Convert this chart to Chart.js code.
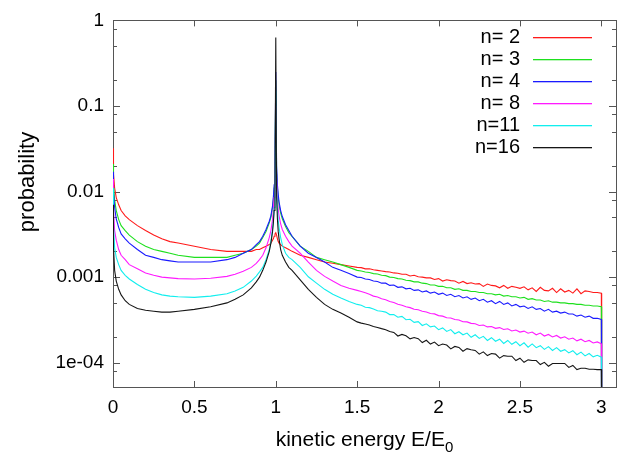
<!DOCTYPE html>
<html>
<head>
<meta charset="utf-8">
<script src="https://cdn.jsdelivr.net/npm/chart.js@4.4.1/dist/chart.umd.min.js"></script>
<style>
html, body { margin: 0; padding: 0; background: #fff; }
</style>
</head>
<body>
<canvas id="chart" width="619" height="452"></canvas>
<script>
// kinetic energy E/E0 (shared x values, 10 per row)
const energy = [
  0, 0.003, 0.01, 0.02, 0.035, 0.05, 0.075, 0.1, 0.15, 0.2,
  0.25, 0.3, 0.35, 0.4, 0.5, 0.6, 0.7, 0.75, 0.8, 0.85,
  0.88, 0.9, 0.92, 0.94, 0.96, 0.97, 0.98, 0.985, 0.99, 0.995,
  1.0, 1.005, 1.01, 1.015, 1.02, 1.03, 1.04, 1.06, 1.08, 1.1,
  1.15, 1.2, 1.25, 1.3, 1.35, 1.4, 1.45,
  1.5, 1.525, 1.55, 1.575, 1.6, 1.625, 1.65, 1.675, 1.7, 1.725,
  1.75, 1.775, 1.8, 1.825, 1.85, 1.875, 1.9, 1.925, 1.95, 1.975,
  2.0, 2.025, 2.05, 2.075, 2.1, 2.125, 2.15, 2.175, 2.2, 2.225,
  2.25, 2.275, 2.3, 2.325, 2.35, 2.375, 2.4, 2.425, 2.45, 2.475,
  2.5, 2.525, 2.55, 2.575, 2.6, 2.625, 2.65, 2.675, 2.7, 2.725,
  2.75, 2.775, 2.8, 2.825, 2.85, 2.875, 2.9, 2.925, 2.95, 2.975,
  3.0, 3.002
];

const seriesLabels = ["n= 2", "n= 3", "n= 4", "n= 8", "n=11", "n=16"];
const seriesColors = ["#ff1a1a", "#1ee01e", "#1a1aff", "#ff1aff", "#12eeee", "#161616"];

const probN2 = [
  0.032, 0.016, 0.011, 0.0085, 0.007, 0.006, 0.0052, 0.0047, 0.004, 0.0035,
  0.0031, 0.0028, 0.0026, 0.0025, 0.0023, 0.0021, 0.002, 0.002, 0.002, 0.002,
  0.0021, 0.0021, 0.0022, 0.0023, 0.0024, 0.0025, 0.0027, 0.0028, 0.003, 0.0032,
  0.0033, 0.0031, 0.0028, 0.0026, 0.0025, 0.0024, 0.0023, 0.0022, 0.0021, 0.002,
  0.0018, 0.0017, 0.0016, 0.0015, 0.00145, 0.0014, 0.00135,
  0.0013, 0.00129, 0.00125, 0.00125, 0.00122, 0.0012, 0.00118, 0.00116, 0.00115, 0.00112,
  0.00111, 0.00108, 0.00108, 0.00103, 0.00105, 0.00101, 0.001, 0.00098, 0.00098, 0.00094,
  0.00096, 0.0009, 0.00093, 0.00091, 0.0009, 0.00085, 0.00089, 0.00084, 0.00086, 0.00083,
  0.00084, 0.00078, 0.00083, 0.0008, 0.00079, 0.00075, 0.0008, 0.00074, 0.00078, 0.00076,
  0.00074, 0.00077, 0.00071, 0.00075, 0.00068, 0.00076, 0.0007, 0.00069, 0.00074, 0.00066,
  0.00073, 0.00067, 0.0007, 0.00065, 0.00073, 0.00064, 0.00069, 0.00068, 0.00066, 0.00066,
  0.00065, 0.00001
];
const probN3 = [
  0.021, 0.012, 0.008, 0.006, 0.0047, 0.004, 0.0035, 0.0031, 0.0026, 0.0023,
  0.0021, 0.002, 0.0019, 0.0018, 0.0017, 0.0017, 0.0017, 0.0018, 0.0019, 0.0021,
  0.0023, 0.0025, 0.0029, 0.0034, 0.0043, 0.005, 0.0065, 0.008, 0.011, 0.018,
  0.2, 0.018, 0.011, 0.0085, 0.007, 0.0056, 0.0048, 0.0039, 0.0033, 0.003,
  0.0023, 0.002, 0.0017, 0.0016, 0.0015, 0.0014, 0.0013,
  0.0012, 0.00118, 0.00115, 0.00113, 0.0011, 0.00109, 0.00105, 0.00104, 0.001, 0.00099,
  0.00096, 0.00095, 0.00092, 0.00091, 0.00088, 0.00088, 0.00085, 0.00084, 0.00081, 0.00081,
  0.00078, 0.00078, 0.00075, 0.00075, 0.00072, 0.00073, 0.0007, 0.0007, 0.00068, 0.00068,
  0.00066, 0.00066, 0.00064, 0.00064, 0.00062, 0.00063, 0.0006, 0.00061, 0.00059, 0.00059,
  0.00057, 0.00058, 0.00055, 0.00056, 0.00054, 0.00054, 0.00052, 0.00053, 0.00051, 0.00051,
  0.0005, 0.0005, 0.00049, 0.00049, 0.00048, 0.00048, 0.00047, 0.00047, 0.00046, 0.00046,
  0.00045, 0.00001
];
const probN4 = [
  0.017, 0.01, 0.0065, 0.0048, 0.0038, 0.0032, 0.0028, 0.0025, 0.0021, 0.0018,
  0.0017, 0.0016, 0.00155, 0.0015, 0.0015, 0.0015, 0.0016, 0.0017, 0.0019, 0.0021,
  0.0024, 0.0026, 0.003, 0.0036, 0.0045, 0.0052, 0.0068, 0.0085, 0.012, 0.02,
  0.25, 0.02, 0.012, 0.0092, 0.0076, 0.006, 0.0051, 0.0041, 0.0035, 0.003,
  0.0023, 0.0019, 0.0017, 0.0015, 0.0013, 0.0012, 0.0011,
  0.001, 0.00099, 0.00095, 0.00094, 0.0009, 0.00089, 0.00085, 0.00085, 0.0008, 0.00081,
  0.00076, 0.00077, 0.00073, 0.00074, 0.0007, 0.00071, 0.00067, 0.00069, 0.00065, 0.00067,
  0.00063, 0.00065, 0.00061, 0.00063, 0.00059, 0.00061, 0.00057, 0.00059, 0.00055, 0.00057,
  0.00053, 0.00055, 0.00051, 0.00053, 0.00049, 0.00052, 0.00048, 0.0005, 0.00046, 0.00048,
  0.00045, 0.00046, 0.00043, 0.00045, 0.00042, 0.00043, 0.0004, 0.00042, 0.00039, 0.0004,
  0.00038, 0.00039, 0.00037, 0.00037, 0.00035, 0.00036, 0.00034, 0.00035, 0.00033, 0.00033,
  0.00032, 0.00001
];
const probN8 = [
  0.014, 0.006, 0.0035, 0.0027, 0.0021, 0.0018, 0.0016, 0.0014, 0.00125, 0.00112,
  0.00105, 0.001, 0.00098, 0.00096, 0.00095, 0.00097, 0.00102, 0.00108, 0.00117, 0.0013,
  0.00145, 0.0016, 0.0018, 0.0022, 0.0029, 0.0035, 0.0047, 0.006, 0.0085, 0.015,
  0.1, 0.014, 0.008, 0.0062, 0.0052, 0.0042, 0.0036, 0.003, 0.0026, 0.0023,
  0.0019, 0.0015, 0.0012, 0.00102, 0.0009, 0.0008, 0.00074,
  0.0007, 0.00068, 0.000655, 0.00063, 0.0006, 0.000585, 0.00056, 0.000545, 0.00052, 0.000505,
  0.000482, 0.00047, 0.00045, 0.00044, 0.000422, 0.000415, 0.0004, 0.000392, 0.000375, 0.000372,
  0.000355, 0.00035, 0.000335, 0.000333, 0.00032, 0.000316, 0.000301, 0.0003, 0.000288, 0.000285,
  0.000272, 0.000276, 0.000262, 0.000265, 0.000252, 0.000257, 0.000244, 0.000249, 0.000235, 0.000241,
  0.000228, 0.000234, 0.000221, 0.000228, 0.000212, 0.000222, 0.000205, 0.000214, 0.0002, 0.000208,
  0.000194, 0.000201, 0.000188, 0.000194, 0.00018, 0.000188, 0.000176, 0.000182, 0.00017, 0.000175,
  0.000166, 0.00001
];
const probN11 = [
  0.011, 0.004, 0.0022, 0.0017, 0.0014, 0.0012, 0.00105, 0.00095, 0.00082, 0.00072,
  0.00066, 0.00062, 0.0006, 0.00059, 0.00058, 0.0006, 0.00064, 0.00069, 0.00076, 0.0009,
  0.00103, 0.00115, 0.0013, 0.0016, 0.0021, 0.0026, 0.0036, 0.0045, 0.0065, 0.012,
  0.15, 0.011, 0.0062, 0.0046, 0.0038, 0.0029, 0.0024, 0.0019, 0.0017, 0.0016,
  0.0013, 0.00101, 0.00085, 0.00072, 0.00063, 0.00057, 0.00052,
  0.00048, 0.00047, 0.000445, 0.00044, 0.000425, 0.000405, 0.0004, 0.00039, 0.000365, 0.000365,
  0.00034, 0.000348, 0.000318, 0.000322, 0.000296, 0.000302, 0.000272, 0.000285, 0.000262, 0.000268,
  0.000243, 0.000255, 0.000232, 0.000244, 0.000218, 0.00023, 0.000212, 0.000222, 0.000198, 0.000212,
  0.000192, 0.000203, 0.000182, 0.000196, 0.000178, 0.000188, 0.000168, 0.000182, 0.000164, 0.000176,
  0.000158, 0.000171, 0.000152, 0.000166, 0.00015, 0.000158, 0.000143, 0.000154, 0.000139, 0.00015,
  0.000136, 0.000142, 0.00013, 0.000138, 0.000124, 0.000133, 0.00012, 0.000128, 0.000117, 0.000122,
  0.000116, 0.00001
];
const probN16 = [
  0.007, 0.0022, 0.0012, 0.0009, 0.00072, 0.00062, 0.00053, 0.00048, 0.00043, 0.00041,
  0.0004, 0.00039, 0.00039, 0.0004, 0.00042, 0.00045, 0.0005, 0.00055, 0.00062, 0.00075,
  0.00088, 0.001, 0.0012, 0.0015, 0.002, 0.0025, 0.0034, 0.0043, 0.006, 0.011,
  0.63, 0.009, 0.0048, 0.0034, 0.0028, 0.0021, 0.0018, 0.0015, 0.0013, 0.0012,
  0.00093, 0.00072, 0.00058, 0.00048, 0.00042, 0.00038, 0.00034,
  0.0003, 0.00029, 0.000283, 0.000276, 0.000265, 0.000258, 0.00025, 0.000243, 0.000232, 0.000226,
  0.000205, 0.000214, 0.000206, 0.00019, 0.000197, 0.000191, 0.000172, 0.000183, 0.000165, 0.000174,
  0.000158, 0.000165, 0.000161, 0.000145, 0.000155, 0.000151, 0.000136, 0.000146, 0.000142, 0.000139,
  0.000126, 0.000134, 0.000121, 0.000128, 0.000126, 0.000113, 0.000121, 0.000119, 0.000119, 0.000106,
  0.000113, 0.000101, 0.000108, 0.000106, 0.000106, 0.000095, 0.000101, 0.000091, 0.000098, 0.000098,
  0.000098, 0.000098, 0.000088, 0.000093, 0.000083, 0.000086, 0.000086, 0.000084, 0.000084, 0.000083,
  0.000083, 0.00001
];

const seriesValues = [probN2, probN3, probN4, probN8, probN11, probN16];

const xTickValues = [0, 0.5, 1, 1.5, 2, 2.5, 3];
const xTickLabels = ["0", "0.5", "1", "1.5", "2", "2.5", "3"];
const yTickValues = [1e-4, 1e-3, 1e-2, 0.1, 1];
const yTickLabels = ["1e-04", "0.001", "0.01", "0.1", "1"];
const yMinorSteps = [2, 5, 8];

const FONT = "'Liberation Sans', Arial, Helvetica, sans-serif";

// gnuplot style box with inward ticks on all four sides
const framePlugin = {
  id: "frame",
  beforeDatasetsDraw(chart) {
    const ctx = chart.ctx;
    const a = chart.chartArea;
    const xs = chart.scales.x;
    const ys = chart.scales.y;
    ctx.save();
    ctx.strokeStyle = "#555";
    ctx.lineWidth = 1;
    ctx.strokeRect(Math.round(a.left) + 0.5, Math.round(a.top) + 0.5, Math.round(a.right - a.left), Math.round(a.bottom - a.top));
    ctx.beginPath();
    xTickValues.forEach((v) => {
      const px = Math.round(xs.getPixelForValue(v)) + 0.5;
      ctx.moveTo(px, a.bottom); ctx.lineTo(px, a.bottom - 6);
      ctx.moveTo(px, a.top); ctx.lineTo(px, a.top + 6);
    });
    yTickValues.forEach((v) => {
      const py = Math.round(ys.getPixelForValue(v)) + 0.5;
      ctx.moveTo(a.left, py); ctx.lineTo(a.left + 7, py);
      ctx.moveTo(a.right, py); ctx.lineTo(a.right - 7, py);
    });
    for (let d = -5; d <= 0; d++) {
      yMinorSteps.forEach((m) => {
        const v = m * Math.pow(10, d);
        if (v < ys.min || v > ys.max) return;
        const py = Math.round(ys.getPixelForValue(v)) + 0.5;
        ctx.moveTo(a.left, py); ctx.lineTo(a.left + 4, py);
        ctx.moveTo(a.right, py); ctx.lineTo(a.right - 4, py);
      });
    }
    ctx.stroke();
    ctx.restore();
  }
};

// key in the upper right corner, text right aligned then a line sample
const keyPlugin = {
  id: "key",
  afterDatasetsDraw(chart) {
    const ctx = chart.ctx;
    ctx.save();
    ctx.font = "20px " + FONT;
    ctx.textAlign = "right";
    ctx.textBaseline = "middle";
    seriesLabels.forEach((label, i) => {
      const y = 37 + i * 22;
      ctx.fillStyle = "#000";
      ctx.fillText(label, 520, y);
      ctx.fillStyle = seriesColors[i];
      ctx.fillRect(533, Math.round(y), 59, 1.3);
    });
    ctx.restore();
  }
};

// axis titles (x title has a subscript)
const titlesPlugin = {
  id: "titles",
  afterDraw(chart) {
    const ctx = chart.ctx;
    const a = chart.chartArea;
    ctx.save();
    ctx.fillStyle = "#000";
    ctx.textBaseline = "alphabetic";
    ctx.textAlign = "left";
    const main = "kinetic energy E/E";
    ctx.font = "21px " + FONT;
    const w1 = ctx.measureText(main).width;
    ctx.font = "15px " + FONT;
    const w2 = ctx.measureText("0").width;
    const x0 = (a.left + a.right) / 2 - (w1 + w2) / 2;
    ctx.font = "21px " + FONT;
    ctx.fillText(main, x0, 446);
    ctx.font = "15px " + FONT;
    ctx.fillText("0", x0 + w1, 452);

    ctx.translate(28, 182);
    ctx.rotate(-Math.PI / 2);
    ctx.font = "22px " + FONT;
    ctx.textAlign = "center";
    ctx.textBaseline = "middle";
    ctx.fillText("probability", 0, 0);
    ctx.restore();
  }
};

const datasets = seriesLabels.map((label, i) => ({
  label,
  data: energy.map((e, k) => ({ x: e, y: seriesValues[i][k] })),
  borderColor: seriesColors[i],
  borderWidth: 1.1,
  pointRadius: 0,
  tension: 0,
  fill: false,
  order: seriesLabels.length - i
}));

new Chart(document.getElementById("chart"), {
  type: "line",
  data: { datasets },
  plugins: [framePlugin, keyPlugin, titlesPlugin],
  options: {
    responsive: false,
    animation: false,
    devicePixelRatio: 1,
    layout: { padding: { left: 0, right: 3, top: 20, bottom: 0 } },
    plugins: { legend: { display: false }, tooltip: { enabled: false } },
    scales: {
      x: {
        type: "linear",
        min: 0,
        max: 3.09,
        grid: { display: false, drawTicks: false },
        border: { display: false },
        afterBuildTicks: (s) => { s.ticks = xTickValues.map((v) => ({ value: v })); },
        afterFit: (s) => { s.height = 65; },
        ticks: {
          padding: 9,
          color: "#000",
          font: { family: FONT, size: 19 },
          maxRotation: 0,
          callback: (v) => xTickLabels[xTickValues.indexOf(v)]
        }
      },
      y: {
        type: "logarithmic",
        min: 5.2e-5,
        max: 1,
        grid: { display: false, drawTicks: false },
        border: { display: false },
        afterBuildTicks: (s) => { s.ticks = yTickValues.map((v) => ({ value: v })); },
        afterFit: (s) => { s.width = 113; },
        ticks: {
          padding: 9,
          color: "#000",
          font: { family: FONT, size: 19 },
          callback: (v) => yTickLabels[yTickValues.indexOf(v)]
        }
      }
    }
  }
});
</script>
</body>
</html>
